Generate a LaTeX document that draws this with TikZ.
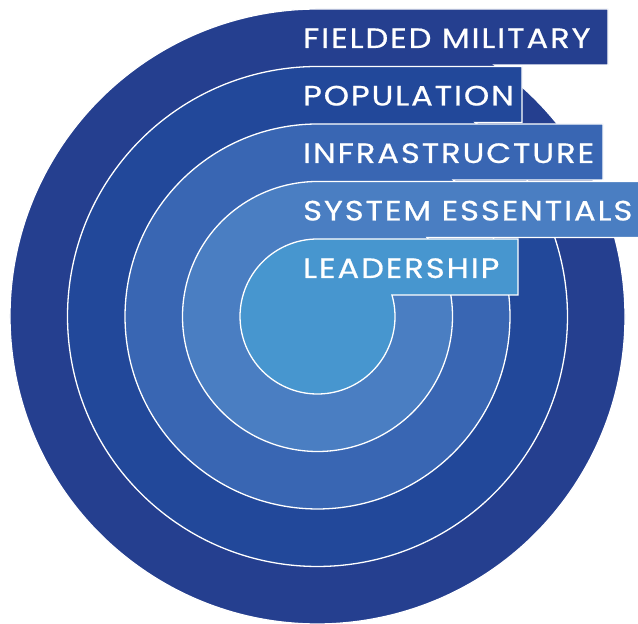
\documentclass[tikz,border=0pt]{standalone}
\usepackage{fontspec}
\newfontfamily\labfont{Poppins}[LetterSpace=6,FakeBold=0.6]
\definecolor{cA}{HTML}{253F8F}
\definecolor{cB}{HTML}{22489A}
\definecolor{cC}{HTML}{3966B3}
\definecolor{cD}{HTML}{4A7EC2}
\definecolor{cE}{HTML}{4796CF}
\tikzset{
  ringshape/.style={draw=white, line width=1.3pt, line join=miter},
  labtext/.style={anchor=base west, inner sep=0pt, text=white,
    font=\labfont\fontsize{28}{30}\selectfont}
}
\begin{document}
\begin{tikzpicture}[x=1pt,y=1pt]
\useasboundingbox (0,0) rectangle (638,624);
\fill[white] (0,0) rectangle (638,624);
\def\cx{317.5}\def\cy{307.5}\def\bh{56}
\foreach \rad/\rend/\col/\nm/\txt in {307.5/608/cA/fm/FIELDED MILITARY, 250/522/cB/pop/POPULATION, 192.5/603/cC/inf/INFRASTRUCTURE, 135/640/cD/sys/SYSTEM ESSENTIALS, 77.5/518/cE/lead/LEADERSHIP}{
  \pgfmathsetmacro\yt{\cy+\rad}
  \pgfmathsetmacro\yb{\yt-\bh}
  \pgfmathsetmacro\ang{asin((\rad-\bh)/\rad)}
  \pgfmathsetmacro\ww{\rad*cos(\ang)}
  \path[ringshape, fill=\col] (\cx,\yt) -- (\rend,\yt) -- (\rend,\yb) -- (\cx+\ww,\yb)
     arc[start angle=\ang, end angle=-270, radius=\rad] -- cycle;
  \node[labtext] (\nm) at (303,\yt-39) {\scalebox{1.15}[1]{\txt}};
}
\end{tikzpicture}
\end{document}
